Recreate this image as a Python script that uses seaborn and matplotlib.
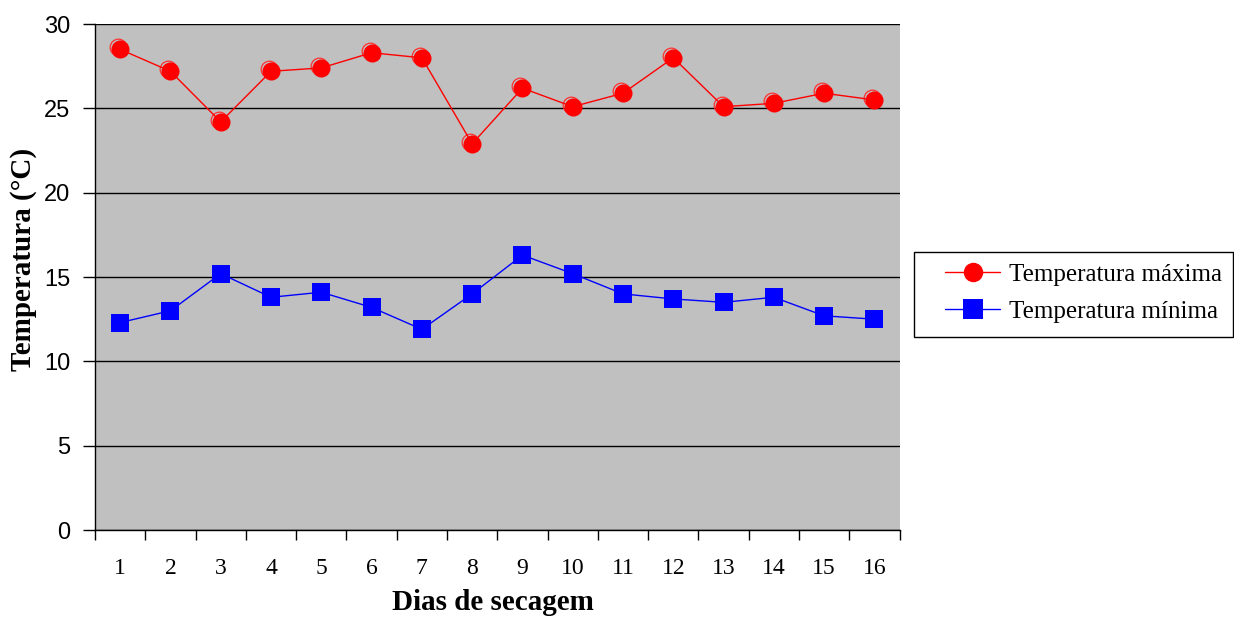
import matplotlib
matplotlib.use("Agg")
import matplotlib.pyplot as plt
import matplotlib.transforms as mtransforms
from matplotlib.patches import Rectangle
import seaborn as sns
import pandas as pd
import numpy as np

# Daily temperatures during the drying period
dias = list(range(1, 17))
temp_max = [28.5, 27.2, 24.2, 27.2, 27.4, 28.3, 28.0, 22.9, 26.2, 25.1, 25.9, 28.0, 25.1, 25.3, 25.9, 25.5]
temp_min = [12.3, 13.0, 15.2, 13.8, 14.1, 13.2, 11.9, 14.0, 16.3, 15.2, 14.0, 13.7, 13.5, 13.8, 12.7, 12.5]
series_names = ["Temperatura máxima", "Temperatura mínima"]
y_ticks = [0, 5, 10, 15, 20, 25, 30]

df = pd.DataFrame({
    "dia": dias * 2,
    "temp": temp_max + temp_min,
    "serie": [series_names[0]] * len(dias) + [series_names[1]] * len(dias),
})

sns.set_style("white")
plt.rcParams["font.family"] = ["Liberation Serif", "DejaVu Serif"]
plt.rcParams["text.color"] = "black"
plt.rcParams["axes.labelcolor"] = "black"
plt.rcParams["xtick.color"] = "black"
plt.rcParams["ytick.color"] = "black"

fig = plt.figure(figsize=(12.34, 6.17), dpi=100)
ax = fig.add_axes([0.077, 0.141, 0.652, 0.820])
ax.set_facecolor("#c0c0c0")

# faint outline ring up-left of each maximum marker
ring_shift = mtransforms.ScaledTranslation(-1.5 / 72, 1.5 / 72, fig.dpi_scale_trans)
ax.plot(dias, temp_max, ls="none", marker="o", mfc="none", mec="#ff3030",
        ms=12, mew=0.9, transform=ax.transData + ring_shift, zorder=2)

sns.lineplot(
    data=df, x="dia", y="temp", hue="serie", style="serie",
    palette={series_names[0]: "#ff0000", series_names[1]: "#0000ff"},
    markers={series_names[0]: "o", series_names[1]: "s"},
    dashes=False, markersize=13, markeredgewidth=0, linewidth=1,
    ax=ax, legend=True, zorder=3,
)

ax.set_xlim(0.5, 16.5)
ax.set_ylim(0, 30)
ax.set_yticks(y_ticks)
ax.set_yticklabels([str(v) for v in y_ticks], family="Liberation Sans", fontsize=17)
ax.yaxis.grid(True, color="#000000", linewidth=1)
ax.set_axisbelow(True)

# category axis: ticks on boundaries, labels centred on the categories
ax.set_xticks(np.arange(0.5, 17.0, 1.0))
ax.set_xticklabels([])
ax.set_xticks(dias, minor=True)
ax.set_xticklabels([str(d) for d in dias], minor=True, fontsize=17)
ax.tick_params(axis="x", which="major", bottom=True, direction="out", length=7, width=1, color="#000000")
ax.tick_params(axis="x", which="minor", bottom=False, length=0, pad=20)
ax.tick_params(axis="y", left=True, direction="out", length=9, width=1, color="#000000", pad=9)

for s in ["top", "right"]:
    ax.spines[s].set_visible(False)
for s in ["left", "bottom"]:
    ax.spines[s].set_color("#000000")
    ax.spines[s].set_linewidth(1)

ax.set_xlabel("Dias de secagem", fontsize=21, fontweight="bold")
ax.set_ylabel("Temperatura (°C)", fontsize=21, fontweight="bold")
ax.xaxis.set_label_coords(0.494, -0.117)
ax.yaxis.set_label_coords(-0.072, 0.535)

handles, labels = ax.get_legend_handles_labels()
ax.get_legend().remove()
leg = fig.legend(
    handles, labels, loc="center left", bbox_to_anchor=(0.766, 0.525),
    frameon=False, fontsize=18, handlelength=2.2, handletextpad=0.35,
    borderpad=0.0, labelspacing=0.6, borderaxespad=0.0,
)
for h in leg.legend_handles:
    h.set_markersize(14)

fig.add_artist(Rectangle((0.7407, 0.4538), 0.2585, 0.1378, transform=fig.transFigure,
                         fill=False, edgecolor="#000000", linewidth=1))

fig.savefig("out.png", dpi=100, facecolor="white")
